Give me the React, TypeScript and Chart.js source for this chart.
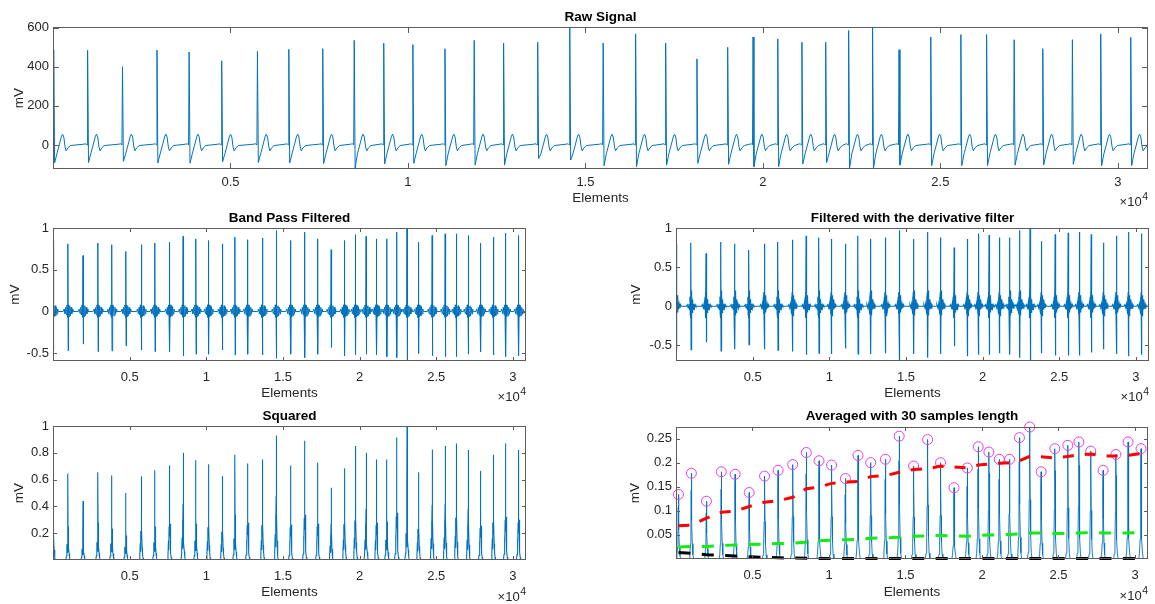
import { useEffect, useRef } from 'react';
import { Chart, registerables } from 'chart.js';

Chart.register(...registerables);

const FONT = '"Liberation Sans", Arial, Helvetica, sans-serif';
const TEXT = '#262626';
const AXIS = '#5c5c5c';
const TRACE = '#0072BD';

// record length (samples) and element-axis ticks
const SAMPLE_COUNT = 30850;
const elementTicks = [5000, 10000, 15000, 20000, 25000, 30000];

// sample index of each beat (R peak)
const beatAt = [20, 975, 1958, 2930, 3835, 4753, 5760, 6644, 7600, 8487, 9318, 10139, 11043, 11867, 12695, 13656, 14559, 15500, 16414, 17261, 18142, 19008, 19723, 20420, 21100, 21770, 22416, 23090, 23836, 24730, 25578, 26303, 27080, 27886, 28720, 29518, 30364];

// raw ECG: R height and S depth per beat
const rawPeak = [487, 484, 400, 485, 475, 430, 478, 489, 492, 535, 520, 513, 492, 535, 521, 525, 603, 521, 568, 521, 440, 499, 552, 542, 525, 525, 585, 603, 487, 552, 564, 564, 538, 492, 538, 568, 550];
const rawDip = [-92, -90, -84, -92, -93, -86, -90, -92, -95, -120, -97, -94, -106, -103, -103, -70, -77, -106, -111, -103, -94, -99, -111, -111, -97, -90, -120, -122, -103, -106, -106, -106, -103, -103, -99, -106, -106];

// band-pass output extremes per beat
const bandPeak = [0.85, 0.81, 0.67, 0.82, 0.8, 0.72, 0.8, 0.82, 0.83, 0.9, 0.87, 0.85, 0.81, 0.89, 0.86, 0.88, 0.97, 0.85, 0.95, 0.87, 0.74, 0.85, 0.92, 0.9, 0.87, 0.87, 0.95, 1.0, 0.83, 0.91, 0.93, 0.93, 0.91, 0.82, 0.89, 0.94, 0.91];
const bandDip = [-0.45, -0.47, -0.39, -0.48, -0.47, -0.41, -0.46, -0.48, -0.48, -0.53, -0.51, -0.51, -0.46, -0.52, -0.51, -0.52, -0.56, -0.51, -0.55, -0.51, -0.43, -0.53, -0.52, -0.51, -0.52, -0.54, -0.55, -0.59, -0.5, -0.53, -0.54, -0.54, -0.51, -0.48, -0.52, -0.54, -0.53];

// derivative filter output extremes per beat
const derivPeak = [0.8, 0.81, 0.676, 0.82, 0.8, 0.72, 0.8, 0.82, 0.85, 0.9, 0.88, 0.86, 0.8, 0.9, 0.86, 0.88, 0.97, 0.86, 0.95, 0.88, 0.75, 0.86, 0.93, 0.91, 0.88, 0.88, 0.97, 1.0, 0.83, 0.92, 0.94, 0.95, 0.92, 0.81, 0.9, 0.95, 0.93];
const derivDip = [-0.55, -0.555, -0.46, -0.57, -0.55, -0.49, -0.55, -0.56, -0.58, -0.62, -0.6, -0.61, -0.54, -0.61, -0.61, -0.6, -0.69, -0.61, -0.66, -0.61, -0.51, -0.64, -0.62, -0.62, -0.6, -0.62, -0.66, -0.7, -0.6, -0.63, -0.63, -0.63, -0.59, -0.55, -0.61, -0.64, -0.62];

// squared output: main spike and second lobe per beat
const squaredPeak = [0.3, 0.645, 0.44, 0.655, 0.63, 0.5, 0.625, 0.67, 0.705, 0.8, 0.745, 0.715, 0.625, 0.785, 0.72, 0.75, 0.93, 0.705, 0.89, 0.725, 0.54, 0.685, 0.85, 0.8, 0.75, 0.75, 0.915, 1.0, 0.655, 0.825, 0.85, 0.87, 0.82, 0.665, 0.785, 0.87, 0.82];
const squaredLobe = [0.25, 0.295, 0.21, 0.33, 0.31, 0.245, 0.31, 0.33, 0.36, 0.42, 0.36, 0.35, 0.3, 0.4, 0.37, 0.37, 0.48, 0.35, 0.45, 0.36, 0.27, 0.38, 0.42, 0.38, 0.37, 0.38, 0.47, 0.5, 0.33, 0.41, 0.42, 0.45, 0.38, 0.34, 0.4, 0.43, 0.4];

// moving-window integration: detected QRS positions and heights
const qrsAt = [160, 1005, 1988, 2960, 3865, 4783, 5790, 6674, 7630, 8517, 9348, 10169, 11073, 11897, 12725, 13686, 14589, 15530, 16444, 17291, 18172, 19038, 19753, 20450, 21130, 21800, 22446, 23120, 23866, 24760, 25608, 26333, 27110, 27916, 28750, 29548, 30394];
const qrsHeight = [0.134, 0.178, 0.12, 0.181, 0.176, 0.138, 0.172, 0.184, 0.196, 0.221, 0.204, 0.195, 0.167, 0.215, 0.2, 0.207, 0.255, 0.193, 0.248, 0.2, 0.148, 0.189, 0.233, 0.222, 0.207, 0.207, 0.252, 0.274, 0.181, 0.229, 0.236, 0.243, 0.224, 0.184, 0.217, 0.243, 0.229];
// running signal level, detection threshold and noise level
const signalLevel = [0.069, 0.07, 0.085, 0.097, 0.099, 0.109, 0.118, 0.121, 0.128, 0.146, 0.149, 0.157, 0.16, 0.161, 0.171, 0.173, 0.18, 0.186, 0.187, 0.193, 0.191, 0.189, 0.195, 0.197, 0.199, 0.2, 0.204, 0.213, 0.212, 0.21, 0.213, 0.216, 0.218, 0.214, 0.214, 0.215, 0.219];
const thresholdLevel = [0.025, 0.026, 0.026, 0.028, 0.029, 0.03, 0.031, 0.032, 0.033, 0.035, 0.038, 0.039, 0.04, 0.041, 0.043, 0.044, 0.045, 0.047, 0.048, 0.049, 0.048, 0.047, 0.049, 0.05, 0.05, 0.051, 0.052, 0.054, 0.054, 0.053, 0.053, 0.054, 0.055, 0.054, 0.054, 0.054, 0.055];
const noiseLevel = [0.0137, 0.012, 0.009, 0.0075, 0.006, 0.0045, 0.0035, 0.0025, 0.002, 0.0015, 0.0012, 0.001, 0.001, 0.001, 0.001, 0.001, 0.001, 0.001, 0.001, 0.001, 0.001, 0.001, 0.001, 0.001, 0.001, 0.001, 0.001, 0.001, 0.001, 0.001, 0.001, 0.001, 0.001, 0.001, 0.001, 0.001, 0.001];

// beat shapes: sample offset from the R peak and value ('P' = per-beat peak, 'D' = per-beat dip)
const rawShapeAt = [-100, -45, -15, 0, 25, 90, 170, 220, 250, 285, 320, 350, 400, 470];
const rawShape: (number | string)[] = [4, 6, 0, 'P', 'D', -45, 10, 45, 55, 40, -10, -30, -15, -3];
const bandShapeAt = [-310, -250, -195, -145, -100, -62, -32, -12, 0, 14, 40, 75, 115, 160, 205, 250, 290, 320];
const bandShape: (number | string)[] = [0, 0.03, -0.025, 0.05, -0.04, 0.08, -0.07, 0.05, 'P', 'D', 0.08, -0.06, 0.07, -0.05, 0.05, -0.03, 0.03, 0];
const derivShapeAt = [-300, -240, -180, -130, -95, -65, -45, -28, -14, 0, 12, 26, 42, 60, 80, 105, 140, 185, 230, 275, 320];
const derivShape: (number | string)[] = [0, 0.02, -0.02, 0.03, -0.04, 0.12, -0.1, 0.18, -0.15, 'P', 'D', 0.2, -0.12, 0.14, -0.08, 0.09, -0.04, 0.03, -0.025, 0.02, 0];
// squared beat: 'P' = spike height, other entries are shares of the second lobe
const squaredShapeAt = [-140, -100, -70, -50, -30, -15, -5, 0, 8, 20, 35, 55, 80, 110, 140];
const squaredShare: (number | string)[] = [0, 0.1, 0.4, 0.2, 0.7, 0.5, 1, 'P', 0.85, 0.5, 0.75, 0.3, 0.15, 0.05, 0];
// integrated QRS hump: shares of its height
const humpAt = [-150, -100, -60, -30, -12, 0, 12, 30, 60, 100, 150];
const humpShare = [0, 0.05, 0.18, 0.45, 0.8, 1, 0.8, 0.45, 0.18, 0.05, 0];

// y-axis ticks
const rawTicks = [0, 200, 400, 600];
const unitTicks = [-0.5, 0, 0.5, 1];
const squaredTicks = [0.2, 0.4, 0.6, 0.8, 1];
const averagedTicks = [0.05, 0.1, 0.15, 0.2, 0.25];

type Pt = { x: number; y: number };

function withEnd(pts: Pt[], endValue?: number): Pt[] {
  if (endValue !== undefined && pts[pts.length - 1].x < SAMPLE_COUNT) pts.push({ x: SAMPLE_COUNT, y: endValue });
  return pts;
}

function beatTrace(at: number[], shapeAt: number[], shape: (number | string)[], peak: number[], dip: number[], endValue?: number): Pt[] {
  const pts: Pt[] = [];
  at.forEach((c, i) => {
    shapeAt.forEach((o, k) => {
      const s = shape[k];
      pts.push({ x: c + o, y: s === 'P' ? peak[i] : s === 'D' ? dip[i] : (s as number) });
    });
  });
  return withEnd(pts, endValue);
}

function lobeTrace(at: number[], shapeAt: number[], share: (number | string)[], peak: number[], lobe: number[]): Pt[] {
  const pts: Pt[] = [];
  at.forEach((c, i) => {
    shapeAt.forEach((o, k) => {
      const s = share[k];
      pts.push({ x: c + o, y: s === 'P' ? peak[i] : lobe[i] * (s as number) });
    });
  });
  return withEnd(pts, 0);
}

function humpTrace(at: number[], height: number[]): Pt[] {
  const pts: Pt[] = [];
  at.forEach((c, i) => humpAt.forEach((o, k) => pts.push({ x: c + o, y: height[i] * humpShare[k] })));
  return withEnd(pts, 0);
}

const levelPoints = (values: number[]) => qrsAt.map((x, i) => ({ x, y: values[i] }));

const traceSet = (data: Pt[], width = 1) => ({
  data,
  borderColor: TRACE,
  borderWidth: width,
  pointRadius: 0,
  tension: 0,
});

const levelSet = (values: number[], color: string, dash: number[]) => ({
  data: levelPoints(values),
  borderColor: color,
  borderWidth: 3,
  borderDash: dash,
  borderCapStyle: 'butt',
  pointRadius: 0,
  tension: 0,
  clip: false,
});

type PanelSpec = {
  key: string;
  title: string;
  box: [number, number, number, number];
  area: [number, number, number, number];
  titleY: number;
  unitX: number;
  xLabelY: number;
  tickGap: number;
  tickLen: number;
  expDy: number;
  yMin: number;
  yMax: number;
  yTicks: number[];
  datasets: any[];
};

const panels: PanelSpec[] = [
  {
    key: 'raw', title: 'Raw Signal',
    box: [0, 0, 1155, 210], area: [53, 27, 1148, 169],
    titleY: 17, unitX: 19, xLabelY: 198.5, tickGap: 6.5, tickLen: 6, expDy: 33,
    yMin: -123, yMax: 603, yTicks: rawTicks,
    datasets: [traceSet(beatTrace(beatAt, rawShapeAt, rawShape, rawPeak, rawDip))],
  },
  {
    key: 'band', title: 'Band Pass Filtered',
    box: [0, 200, 580, 205], area: [53, 228, 526, 361],
    titleY: 218.3, unitX: 15.5, xLabelY: 393.5, tickGap: 10, tickLen: 4, expDy: 36,
    yMin: -0.592, yMax: 1, yTicks: unitTicks,
    datasets: [traceSet(beatTrace(beatAt, bandShapeAt, bandShape, bandPeak, bandDip, 0))],
  },
  {
    key: 'deriv', title: 'Filtered with the derivative filter',
    box: [590, 200, 565, 205], area: [676, 228, 1149, 361],
    titleY: 218.3, unitX: 636.5, xLabelY: 393.5, tickGap: 10, tickLen: 4, expDy: 36,
    yMin: -0.7, yMax: 1, yTicks: unitTicks,
    datasets: [traceSet(beatTrace(beatAt, derivShapeAt, derivShape, derivPeak, derivDip, 0), 1.2)],
  },
  {
    key: 'squared', title: 'Squared',
    box: [0, 400, 580, 204], area: [53, 426, 526, 560],
    titleY: 416.3, unitX: 19.5, xLabelY: 592.3, tickGap: 10, tickLen: 4, expDy: 37,
    yMin: 0, yMax: 1, yTicks: squaredTicks,
    datasets: [traceSet(lobeTrace(beatAt, squaredShapeAt, squaredShare, squaredPeak, squaredLobe), 1.1)],
  },
  {
    key: 'averaged', title: 'Averaged with 30 samples length',
    box: [590, 400, 565, 204], area: [676, 427, 1148, 559],
    titleY: 416.3, unitX: 635, xLabelY: 592.3, tickGap: 10, tickLen: 4, expDy: 37,
    yMin: 0, yMax: 0.274, yTicks: averagedTicks,
    datasets: [
      levelSet(thresholdLevel, '#14eb14', [12, 11.4]),
      levelSet(signalLevel, '#ff0000', [11, 11]),
      levelSet(noiseLevel, '#000000', [12, 11.4]),
      {
        data: qrsAt.map((x, i) => ({ x, y: qrsHeight[i] })),
        showLine: false,
        pointStyle: 'circle',
        pointRadius: 5,
        pointBorderWidth: 1,
        pointBorderColor: '#e43ee8',
        pointBackgroundColor: 'rgba(0,0,0,0)',
        clip: false,
      },
      traceSet(humpTrace(qrsAt, qrsHeight), 0.9),
    ],
  },
];

// MATLAB-style box with inward ticks on all four sides and the x10^4 exponent
const axesFrame = {
  id: 'axesFrame',
  afterDatasetsDraw(chart: any, _args: any, opts: any) {
    const { ctx, chartArea, scales } = chart;
    const { left, top, right, bottom } = chartArea;
    const len = opts.tickLen;
    ctx.save();
    ctx.strokeStyle = AXIS;
    ctx.lineWidth = 1;
    ctx.beginPath();
    scales.x.ticks.forEach((t: any) => {
      const px = Math.round(scales.x.getPixelForValue(t.value)) + 0.5;
      ctx.moveTo(px, bottom);
      ctx.lineTo(px, bottom - len);
      ctx.moveTo(px, top);
      ctx.lineTo(px, top + len);
    });
    scales.y.ticks.forEach((t: any) => {
      const py = Math.round(scales.y.getPixelForValue(t.value)) + 0.5;
      ctx.moveTo(left, py);
      ctx.lineTo(left + len, py);
      ctx.moveTo(right, py);
      ctx.lineTo(right - len, py);
    });
    ctx.stroke();
    ctx.strokeRect(Math.round(left) + 0.5, Math.round(top) + 0.5, Math.round(right - left) - 1, Math.round(bottom - top) - 1);
    ctx.restore();
  },
  afterDraw(chart: any, _args: any, opts: any) {
    const { ctx, chartArea } = chart;
    ctx.save();
    ctx.fillStyle = TEXT;
    ctx.textAlign = 'right';
    ctx.textBaseline = 'middle';
    const baseY = chartArea.bottom + opts.expDy;
    ctx.font = `10.5px ${FONT}`;
    const supW = ctx.measureText('4').width;
    ctx.fillText('4', chartArea.right, baseY - 5);
    ctx.font = `13px ${FONT}`;
    ctx.fillText('\u00d710', chartArea.right - supW - 0.5, baseY);
    ctx.restore();
  },
};

function makeConfig(p: PanelSpec): any {
  const [cx, cy, cw, ch] = p.box;
  const [L, T, R, B] = p.area;
  const titleTop = p.titleY - cy - 6.75;
  return {
    type: 'line',
    data: { datasets: p.datasets },
    options: {
      animation: false,
      responsive: false,
      events: [],
      layout: { padding: { left: 0, top: 0, bottom: 0, right: cw - (R - cx) } },
      plugins: {
        legend: { display: false },
        tooltip: { enabled: false },
        title: {
          display: true,
          fullSize: false,
          text: p.title,
          color: '#000',
          font: { family: FONT, size: 13.5, weight: 'bold', lineHeight: 1 },
          padding: { top: titleTop, bottom: T - cy - 13.5 - titleTop },
        },
        axesFrame: { tickLen: p.tickLen, expDy: p.expDy },
      },
      scales: {
        x: {
          type: 'linear',
          min: 0,
          max: SAMPLE_COUNT,
          afterBuildTicks: (s: any) => { s.ticks = elementTicks.map((v) => ({ value: v })); },
          afterFit: (s: any) => { s.height = cy + ch - B; },
          grid: { display: false, drawTicks: false },
          border: { display: false },
          ticks: {
            autoSkip: false,
            maxRotation: 0,
            padding: p.tickGap,
            color: TEXT,
            font: { family: FONT, size: 13, lineHeight: 1 },
            callback: (v: number) => String(v / 10000),
          },
          title: {
            display: true,
            text: 'Elements',
            color: TEXT,
            font: { family: FONT, size: 13.5, lineHeight: 1 },
            padding: { top: 0, bottom: ch - (p.xLabelY - cy) - 6.75 },
          },
        },
        y: {
          type: 'linear',
          min: p.yMin,
          max: p.yMax,
          afterBuildTicks: (s: any) => { s.ticks = p.yTicks.map((v) => ({ value: v })); },
          afterFit: (s: any) => { s.width = L - cx; },
          grid: { display: false, drawTicks: false },
          border: { display: false },
          ticks: {
            autoSkip: false,
            padding: 4,
            color: TEXT,
            font: { family: FONT, size: 13, lineHeight: 1 },
            callback: (v: number) => String(v),
          },
          title: {
            display: true,
            text: 'mV',
            color: TEXT,
            font: { family: FONT, size: 13.5, lineHeight: 1 },
            padding: { top: p.unitX - cx - 6.75, bottom: 0 },
          },
        },
      },
    },
    plugins: [axesFrame],
  };
}

function PanelChart({ spec }: { spec: PanelSpec }) {
  const ref = useRef<HTMLCanvasElement>(null);
  useEffect(() => {
    if (!ref.current) return;
    const chart = new Chart(ref.current, makeConfig(spec));
    return () => chart.destroy();
  }, [spec]);
  const [x, y, w, h] = spec.box;
  return (
    <canvas
      ref={ref}
      width={w}
      height={h}
      style={{ position: 'absolute', left: x, top: y, width: w, height: h }}
    />
  );
}

export default function App() {
  return (
    <div style={{ position: 'absolute', left: 0, top: 0, width: 1155, height: 604, background: '#fff', overflow: 'hidden' }}>
      {panels.map((p) => (
        <PanelChart key={p.key} spec={p} />
      ))}
    </div>
  );
}
